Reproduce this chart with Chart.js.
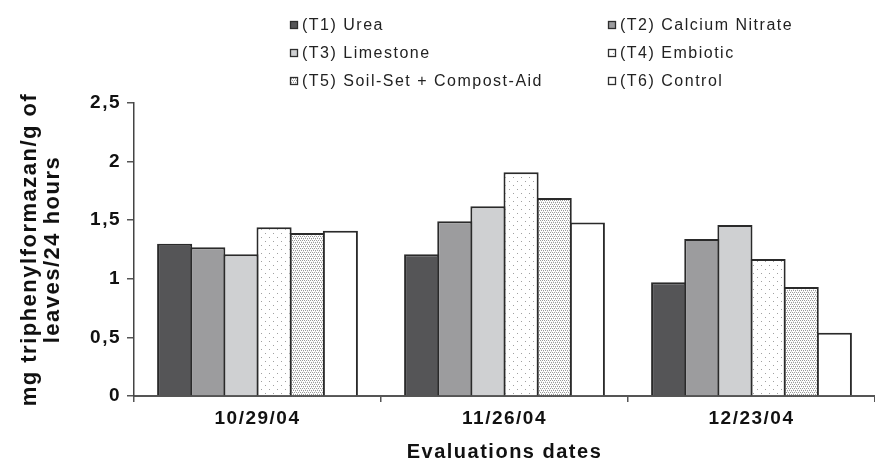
<!DOCTYPE html>
<html>
<head>
<meta charset="utf-8">
<style>
  html, body { margin: 0; padding: 0; background: #ffffff; }
  #wrap { width: 875px; height: 462px; }
</style>
<script src="https://cdn.jsdelivr.net/npm/chart.js@4/dist/chart.umd.min.js"></script>
</head>
<body>
<div id="wrap"><canvas id="c" width="875" height="462"></canvas></div>
<script>
// Evaluation dates (categories)
const dates = ['10/29/04', '11/26/04', '12/23/04'];

// Treatment names
const treatments = [
  '(T1) Urea',
  '(T2) Calcium Nitrate',
  '(T3) Limestone',
  '(T4) Embiotic',
  '(T5) Soil-Set + Compost-Aid',
  '(T6) Control'
];

// mg triphenylformazan / g of leaves / 24 h, one array per treatment
const t1Urea      = [1.30, 1.21, 0.97];
const t2CaNitrate = [1.27, 1.49, 1.34];
const t3Limestone = [1.21, 1.62, 1.46];
const t4Embiotic  = [1.44, 1.91, 1.17];
const t5SoilSet   = [1.39, 1.69, 0.93];
const t6Control   = [1.41, 1.48, 0.54];

// Y axis ticks (decimal comma)
const yTickValues = [0, 0.5, 1, 1.5, 2, 2.5];
const yTickLabels = ['0', '0,5', '1', '1,5', '2', '2,5'];

const FONT = '"Liberation Sans", Arial, Helvetica, sans-serif';
const canvas = document.getElementById('c');
const ctx0 = canvas.getContext('2d');

// Small repeating dot fills for the stippled bars
function dotPattern(size, dots) {
  const tile = document.createElement('canvas');
  tile.width = size; tile.height = size;
  const g = tile.getContext('2d');
  g.fillStyle = '#ffffff';
  g.fillRect(0, 0, size, size);
  dots.forEach(([x, y, col]) => { g.fillStyle = col; g.fillRect(x, y, 1, 1); });
  return ctx0.createPattern(tile, 'repeat');
}
const sparseDots = dotPattern(8, [[1, 1, '#a0a0a0'], [5, 5, '#a0a0a0']]);
const denseDots = dotPattern(4, [[0, 0, '#9a9a9a'], [2, 0, '#9a9a9a'], [1, 2, '#9a9a9a'], [3, 2, '#9a9a9a'], [1, 1, '#d8d8d8'], [3, 3, '#d8d8d8']]);

const series = [t1Urea, t2CaNitrate, t3Limestone, t4Embiotic, t5SoilSet, t6Control];
const fills = ['#555557', '#9c9c9e', '#cfd0d2', sparseDots, denseDots, '#ffffff'];

// Two-column legend in the top band
const legendGrid = {
  id: 'legendGrid',
  afterDraw(chart) {
    const ctx = chart.ctx;
    const colX = [290, 608];
    const rowY = [25, 53, 81];
    ctx.save();
    ctx.letterSpacing = '1.5px';
    ctx.font = '16px ' + FONT;
    ctx.textBaseline = 'middle';
    ctx.textAlign = 'left';
    chart.data.datasets.forEach((ds, i) => {
      const bx = colX[i % 2];
      const cy = rowY[Math.floor(i / 2)];
      ctx.fillStyle = ds.backgroundColor;
      ctx.fillRect(bx, cy - 4, 8, 8);
      ctx.strokeStyle = '#2e2e2e';
      ctx.lineWidth = 1.3;
      ctx.strokeRect(bx + 0.5, cy - 3.5, 7, 7);
      ctx.fillStyle = '#222222';
      ctx.fillText(ds.label, bx + 12, cy + 1);
    });
    ctx.restore();
  }
};

// Slightly tracked-out lettering for axis text
const tracking = {
  id: 'tracking',
  beforeDraw(chart) { chart.ctx.letterSpacing = '1.5px'; }
};

new Chart(canvas, {
  type: 'bar',
  data: {
    labels: dates,
    datasets: series.map((vals, i) => ({
      label: treatments[i],
      data: vals,
      backgroundColor: fills[i]
    }))
  },
  options: {
    responsive: false,
    animation: false,
    devicePixelRatio: 1,
    layout: { padding: { top: 103, left: 0, right: 0, bottom: 0 } },
    plugins: { legend: { display: false }, tooltip: { enabled: false } },
    datasets: {
      bar: {
        categoryPercentage: 0.805,
        barPercentage: 1.06,
        borderWidth: 2,
        borderColor: '#2a2a2a',
        borderSkipped: 'start'
      }
    },
    scales: {
      x: {
        grid: { offset: true, drawOnChartArea: false, tickLength: 6, color: '#555555', lineWidth: 1.5 },
        border: { color: '#555555', width: 2 },
        ticks: { font: { family: FONT, size: 19, weight: 'bold' }, color: '#111111', padding: 5, maxRotation: 0 },
        title: {
          display: true,
          text: 'Evaluations dates',
          color: '#111111',
          font: { family: FONT, size: 20, weight: 'bold', lineHeight: 1 },
          padding: { top: 0, bottom: 0 }
        },
        afterFit(s) { s.height = 66; }
      },
      y: {
        min: 0,
        max: 2.5,
        afterBuildTicks(s) { s.ticks = yTickValues.map(v => ({ value: v })); },
        ticks: {
          callback: v => yTickLabels[yTickValues.indexOf(v)],
          font: { family: FONT, size: 19, weight: 'bold' },
          color: '#111111',
          padding: 6
        },
        grid: { drawOnChartArea: false, tickLength: 7, color: '#555555', lineWidth: 1.5 },
        border: { color: '#444444', width: 1.5 },
        title: {
          display: true,
          text: ['mg triphenylformazan/g of', 'leaves/24 hours'],
          color: '#111111',
          font: { family: FONT, size: 22, weight: 'bold', lineHeight: 1.05 },
          padding: { top: 18, bottom: 0 }
        },
        afterFit(s) { s.width = 134; }
      }
    }
  },
  plugins: [tracking, legendGrid]
});
</script>
</body>
</html>
